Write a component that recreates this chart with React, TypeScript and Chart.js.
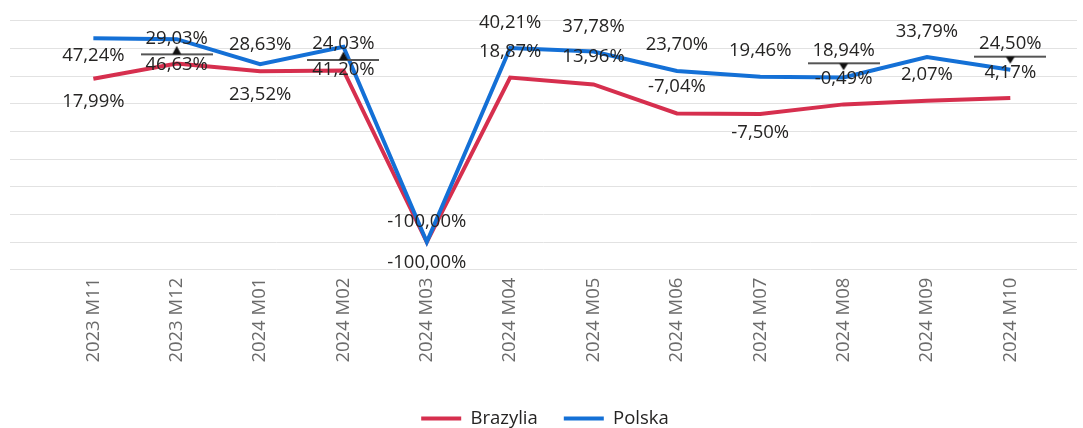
import { useEffect, useRef } from 'react';
import { Chart, registerables } from 'chart.js';

Chart.register(...registerables);

// ---- data ----
const categories = [
  '2023 M11', '2023 M12', '2024 M01', '2024 M02', '2024 M03', '2024 M04',
  '2024 M05', '2024 M06', '2024 M07', '2024 M08', '2024 M09', '2024 M10',
];
const brazyliaValues = [17.99, 29.03, 23.52, 24.03, -100, 18.87, 13.96, -7.04, -7.5, -0.49, 2.07, 4.17];
const polskaValues = [47.24, 46.63, 28.63, 41.2, -100, 40.21, 37.78, 23.7, 19.46, 18.94, 33.79, 24.5];

// marker annotations (line + triangle)
const markerUpCategories = ['2023 M12', '2024 M02'];
const markerUpValues = [35.7, 31.6];
const markerDownCategories = ['2024 M08', '2024 M10'];
const markerDownValues = [29.2, 34.0];

// data-label placement (px from point, negative = above)
const brazyliaLabelOffsets = [23, -25, 24, -26.5, 21, -26, -28, -27, 19, -26, -26, -25.5];
const polskaLabelOffsets = [17, 26, -19, 23, -20, -25, -25, -26, -26, -27, -25.5, -26];

const RED = '#D62F4E';
const BLUE = '#1470D6';
const FONT = "'Open Sans', 'DejaVu Sans', sans-serif";
const FONT_SIZE = 18.5;

const fmt = (v: number) => v.toFixed(2).replace('.', ',') + '%';

function makeMarker(dir: 'up' | 'down') {
  const c = document.createElement('canvas');
  c.width = 72;
  c.height = 20;
  const g = c.getContext('2d')!;
  g.fillStyle = '#555555';
  g.fillRect(0, 9, 72, 2);
  g.fillStyle = '#111';
  g.beginPath();
  if (dir === 'up') {
    g.moveTo(36, 1.5);
    g.lineTo(40.5, 10);
    g.lineTo(31.5, 10);
  } else {
    g.moveTo(31.5, 10);
    g.lineTo(40.5, 10);
    g.lineTo(36, 17);
  }
  g.closePath();
  g.fill();
  return c;
}

const labelPlugin = {
  id: 'valueLabels',
  afterDatasetDraw(chart: any, args: any) {
    if (args.index !== 1) return;
    const ctx = chart.ctx;
    ctx.save();
    ctx.font = `${FONT_SIZE}px ${FONT}`;
    ctx.fillStyle = '#252423';
    ctx.textAlign = 'center';
    ctx.textBaseline = 'middle';
    const sets = [
      { idx: 0, values: brazyliaValues, offsets: brazyliaLabelOffsets },
      { idx: 1, values: polskaValues, offsets: polskaLabelOffsets },
    ];
    for (const s of sets) {
      const meta = chart.getDatasetMeta(s.idx);
      meta.data.forEach((pt: any, i: number) => {
        ctx.fillText(fmt(s.values[i]), pt.x, pt.y + s.offsets[i]);
      });
    }
    ctx.restore();
  },
};

export default function App() {
  const ref = useRef<HTMLCanvasElement | null>(null);

  useEffect(() => {
    if (!ref.current) return;
    const upImg = makeMarker('up');
    const downImg = makeMarker('down');
    const chart = new Chart(ref.current, {
      type: 'line',
      data: {
        datasets: [
          {
            label: 'Brazylia',
            data: brazyliaValues.map((v, i) => ({ x: i, y: v })),
            borderColor: RED,
            backgroundColor: RED,
            borderWidth: 4,
            pointRadius: 0,
            pointHoverRadius: 0,
            tension: 0,
            clip: false,
            order: 1,
          },
          {
            label: 'Polska',
            data: polskaValues.map((v, i) => ({ x: i, y: v })),
            borderColor: BLUE,
            backgroundColor: BLUE,
            borderWidth: 4,
            pointRadius: 0,
            pointHoverRadius: 0,
            tension: 0,
            clip: false,
            order: 0,
          },
          {
            label: 'markersUp',
            data: markerUpValues.map((v, i) => ({ x: categories.indexOf(markerUpCategories[i]), y: v })),
            showLine: false,
            pointStyle: upImg,
            pointRadius: 5,
            clip: false,
            order: -1,
          },
          {
            label: 'markersDown',
            data: markerDownValues.map((v, i) => ({ x: categories.indexOf(markerDownCategories[i]), y: v })),
            showLine: false,
            pointStyle: downImg,
            pointRadius: 5,
            clip: false,
            order: -1,
          },
        ],
      },
      options: {
        animation: false,
        responsive: false,
        events: [],
        layout: { padding: { left: 10, right: 3, top: 20.7, bottom: -9.75 } },
        scales: {
          x: {
            type: 'linear',
            min: -1,
            max: 11.8,
            afterBuildTicks: (scale: any) => {
              scale.ticks = categories.map((_, i) => ({ value: i }));
            },
            afterFit: (scale: any) => {
              scale.height = 113.55;
            },
            ticks: {
              autoSkip: false,
              minRotation: 90,
              maxRotation: 90,
              padding: 8,
              color: '#6b6b6b',
              font: { family: FONT, size: FONT_SIZE },
              callback: (v: any) => categories[v as number] ?? '',
            },
            grid: { display: false, drawTicks: false },
            border: { display: false },
          },
          y: {
            min: -120,
            max: 60,
            ticks: { display: false, stepSize: 20 },
            grid: { color: '#E2E2E2', lineWidth: 1, drawTicks: false },
            border: { display: false },
            afterFit: (scale: any) => {
              scale.width = 0;
            },
          },
        },
        plugins: {
          tooltip: { enabled: false },
          legend: {
            position: 'bottom',
            align: 'center',
            labels: {
              boxWidth: 40,
              boxHeight: 4,
              padding: 26,
              color: '#252423',
              font: { family: FONT, size: FONT_SIZE },
              filter: (item: any) => item.datasetIndex < 2,
              sort: (a: any, b: any) => a.datasetIndex - b.datasetIndex,
              generateLabels: (c: any) =>
                Chart.defaults.plugins.legend.labels
                  .generateLabels(c)
                  .map((it: any) => ({ ...it, lineWidth: 0, fillStyle: it.strokeStyle })),
            },
          },
        },
      } as any,
      plugins: [labelPlugin],
    });
    return () => chart.destroy();
  }, []);

  return (
    <div style={{ position: 'fixed', left: 0, top: 0, width: 1083, height: 428, background: '#fff' }}>
      <canvas ref={ref} width={1083} height={428} style={{ display: 'block' }} />
    </div>
  );
}
